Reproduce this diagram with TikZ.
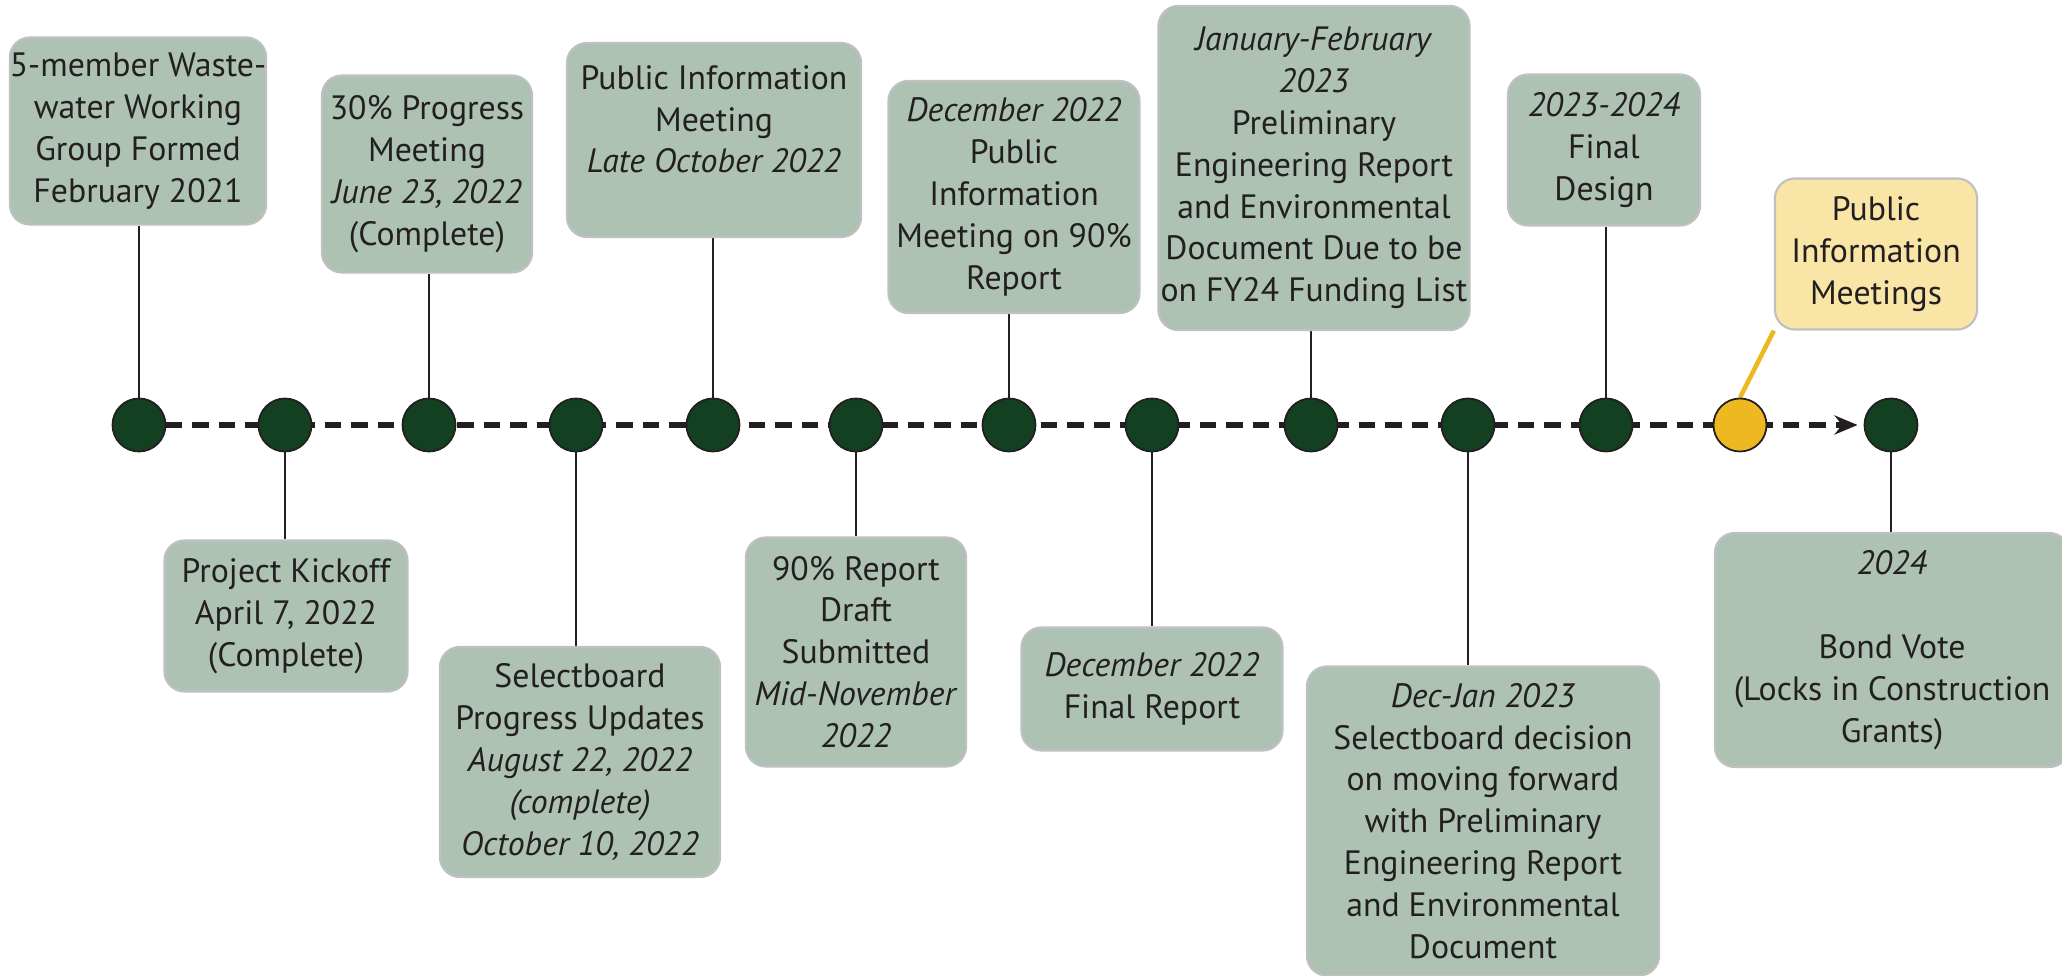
\documentclass[tikz,border=0pt]{standalone}
\usepackage{fontspec}
\setmainfont{PT Sans}
\usetikzlibrary{arrows.meta,backgrounds,positioning}

\definecolor{sage}{RGB}{173,194,179}
\definecolor{sageedge}{RGB}{190,192,193}
\definecolor{pine}{RGB}{18,64,32}
\definecolor{gold}{RGB}{238,184,32}
\definecolor{cream}{RGB}{249,229,166}
\definecolor{ink}{RGB}{35,31,32}

\begin{document}
\begin{tikzpicture}[x=0.01cm,y=-0.01cm,
  box/.style={rectangle,rounded corners=0.2cm,draw=sageedge,line width=0.6pt,fill=sage,
    text=ink,align=center,inner sep=0pt,font=\fontsize{9.6}{11.9}\selectfont},
  soon/.style={box,fill=cream},
  dot/.style={circle,draw=ink,line width=0.5pt,fill=pine,minimum size=0.53cm,inner sep=0pt},
  stem/.style={draw=ink,line width=0.45pt},
  timeline/.style={draw=ink,line width=1.45pt,dash pattern=on 0.165cm off 0.1cm}]
\useasboundingbox (0,0) rectangle (2062,976);
\clip (0,0) rectangle (2062,976);

% milestones on the time axis
\node (d1)  at ( 139,425) [dot] {};
\node (d2)  at ( 285,425) [dot] {};
\node (d3)  at ( 429,425) [dot] {};
\node (d4)  at ( 576,425) [dot] {};
\node (d5)  at ( 713,425) [dot] {};
\node (d6)  at ( 856,425) [dot] {};
\node (d7)  at (1009,425) [dot] {};
\node (d8)  at (1152,425) [dot] {};
\node (d9)  at (1311,425) [dot] {};
\node (d10) at (1468,425) [dot] {};
\node (d11) at (1606,425) [dot] {};
\node (d12) at (1740,425) [dot,fill=gold] {};
\node (d13) at (1891,425) [dot] {};

% boxes above the axis
\node (wg) at (138,131) [box,minimum width=2.56cm,minimum height=1.87cm]
  {5-member Waste-\\water Working\\Group Formed\\February 2021};
\node (prog) at (427,174) [box,minimum width=2.10cm,minimum height=1.97cm]
  {30\% Progress\\Meeting\\\textit{June 23, 2022}\\(Complete)};
\node (pim) at (714,140) [box,minimum width=2.94cm,minimum height=1.94cm]
  {Public Information\\Meeting\\\textit{Late October 2022}\\\mbox{}};
\node (pimdec) at (1014,197) [box,minimum width=2.51cm,minimum height=2.32cm]
  {\textit{December 2022}\\Public\\Information\\Meeting on 90\%\\Report};
\node (per) at (1314,168) [box,minimum width=3.11cm,minimum height=3.24cm]
  {\textit{January-February}\\\textit{2023}\\Preliminary\\Engineering Report\\and Environmental\\Document Due to be\\on FY24 Funding List};
\node (design) at (1604,150) [box,minimum width=1.92cm,minimum height=1.51cm]
  {\textit{2023-2024}\\Final\\Design};
\node (pims) at (1876,254) [soon,minimum width=2.02cm,minimum height=1.51cm]
  {Public\\Information\\Meetings};

% boxes below the axis
\node (kickoff) at (286,616) [box,minimum width=2.43cm,minimum height=1.51cm]
  {Project Kickoff\\April 7, 2022\\(Complete)};
\node (updates) at (580,762) [box,minimum width=2.80cm,minimum height=2.30cm]
  {Selectboard\\Progress Updates\\\textit{August 22, 2022}\\\textit{(complete)}\\\textit{October 10, 2022}};
\node (draft) at (856,652) [box,minimum width=2.20cm,minimum height=2.29cm]
  {90\% Report\\Draft\\Submitted\\\textit{Mid-November}\\\textit{2022}};
\node (final) at (1152,689) [box,minimum width=2.61cm,minimum height=1.23cm]
  {\textit{December 2022}\\Final Report};
\node (decision) at (1483,821) [box,minimum width=3.52cm,minimum height=3.09cm]
  {\textit{Dec-Jan 2023}\\Selectboard decision\\on moving forward\\with Preliminary\\Engineering Report\\and Environmental\\Document};
\node (vote) at (1892,650) [box,minimum width=3.54cm,minimum height=2.34cm]
  {\textit{2024}\\\mbox{}\\Bond Vote\\(Locks in Construction\\Grants)};

\begin{scope}[on background layer]
  \draw[timeline,-{Stealth[length=0.23cm,width=0.19cm]},shorten >=0.06cm] (d1.center) -- (d13);
  \draw[draw=gold,line width=1.3pt] (d12.north) -- (pims.south west);
  \draw[stem] (d1) -- (d1 |- wg.south);
  \draw[stem] (d3) -- (d3 |- prog.south);
  \draw[stem] (d5) -- (d5 |- pim.south);
  \draw[stem] (d7) -- (d7 |- pimdec.south);
  \draw[stem] (d9) -- (d9 |- per.south);
  \draw[stem] (d11) -- (d11 |- design.south);
  \draw[stem] (d2) -- (d2 |- kickoff.north);
  \draw[stem] (d4) -- (d4 |- updates.north);
  \draw[stem] (d6) -- (d6 |- draft.north);
  \draw[stem] (d8) -- (d8 |- final.north);
  \draw[stem] (d10) -- (d10 |- decision.north);
  \draw[stem] (d13) -- (d13 |- vote.north);
\end{scope}
\end{tikzpicture}
\end{document}
